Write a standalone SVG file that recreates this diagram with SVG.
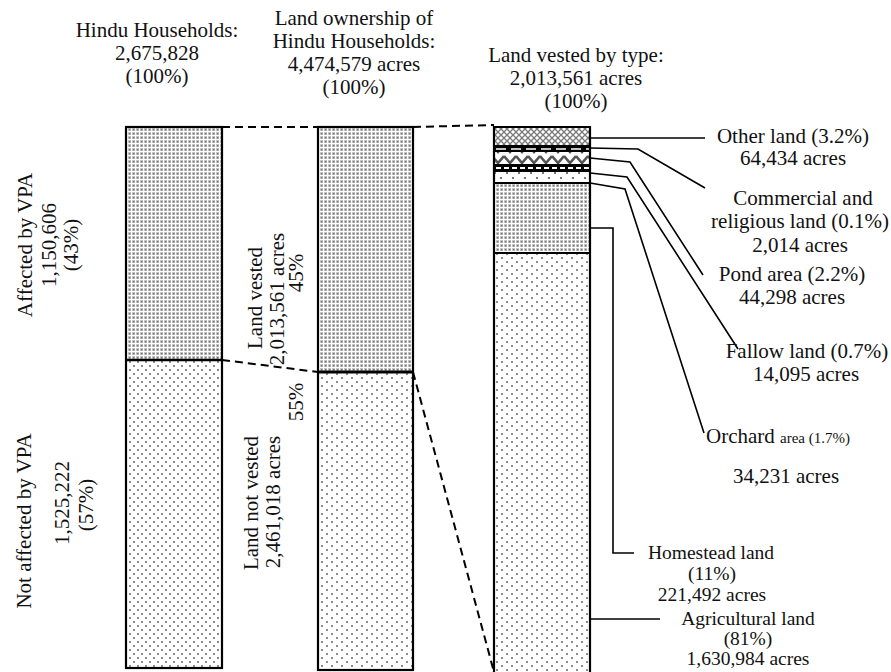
<svg xmlns="http://www.w3.org/2000/svg" width="891" height="672" viewBox="0 0 891 672">
  <style>
    text { font-family: "Liberation Serif", "Times New Roman", serif; font-size: 21px; fill: #111; }
    .c { text-anchor: middle; }
    .small { font-size: 15px; }
    .tight { font-size: 19.5px; }
    .bar { stroke: #000; stroke-width: 2.2; }
    .sep { stroke: #000; stroke-width: 2.5; fill: none; }
    .dash { stroke: #000; stroke-width: 2; stroke-dasharray: 8 5; fill: none; }
    .lead { stroke: #000; stroke-width: 1.6; fill: none; }
  </style>
  <defs>
    <pattern id="dense" width="4" height="4" patternUnits="userSpaceOnUse">
      <rect width="4" height="4" fill="#fff"/>
      <rect width="3" height="3" fill="#c4c4c4"/>
      <rect x="1" y="1" width="1.4" height="1.4" fill="#6f6f6f"/>
    </pattern>
    <pattern id="sparse" width="8" height="8" patternUnits="userSpaceOnUse">
      <rect width="8" height="8" fill="#fff"/>
      <circle cx="2" cy="2" r="1" fill="#666"/>
      <circle cx="6" cy="6" r="1" fill="#666"/>
    </pattern>
    <pattern id="sparse2" width="10" height="8" patternUnits="userSpaceOnUse">
      <rect width="10" height="8" fill="#fff"/>
      <circle cx="2" cy="2" r="1" fill="#666"/>
      <circle cx="7" cy="6" r="1" fill="#666"/>
    </pattern>
    <pattern id="lattice" width="6" height="6" patternUnits="userSpaceOnUse">
      <rect width="6" height="6" fill="#fff"/>
      <path d="M0,0 L6,6 M6,0 L0,6" stroke="#7a7a7a" stroke-width="1.3"/>
    </pattern>
    <pattern id="zigzag" width="12" height="11" patternUnits="userSpaceOnUse">
      <rect width="12" height="11" fill="#fff"/>
      <path d="M0,2 L6,9 L12,2" stroke="#555" stroke-width="2.6" fill="none"/>
    </pattern>
    <pattern id="orchard" width="12" height="10" patternUnits="userSpaceOnUse">
      <rect width="12" height="10" fill="#fff"/>
      <circle cx="3" cy="3" r="1.1" fill="#555"/>
      <circle cx="9" cy="8" r="1.1" fill="#555"/>
    </pattern>
  </defs>

  <!-- Column headings -->
  <g id="heading-households">
    <text class="c" x="157" y="37">Hindu Households:</text>
    <text class="c" x="157" y="60">2,675,828</text>
    <text class="c" x="157" y="83">(100%)</text>
  </g>
  <g id="heading-ownership">
    <text class="c" x="354" y="25">Land ownership of</text>
    <text class="c" x="354" y="48">Hindu Households:</text>
    <text class="c" x="354" y="71">4,474,579 acres</text>
    <text class="c" x="354" y="94">(100%)</text>
  </g>
  <g id="heading-vested">
    <text class="c" x="576" y="62">Land vested by type:</text>
    <text class="c" x="576" y="85">2,013,561 acres</text>
    <text class="c" x="576" y="108">(100%)</text>
  </g>

  <!-- Connectors between columns -->
  <g id="connectors">
    <path class="dash" d="M222,127 L318,127"/>
    <path class="dash" d="M413,127 L494,125"/>
    <path class="dash" d="M222,360 L318,372"/>
    <path class="dash" d="M413,372 L494,672"/>
    <!-- leader lines to the land-type labels -->
    <path class="lead" d="M590,138 L705,138"/>
    <path class="lead" d="M590,148 L638,149 L705,188"/>
    <path class="lead" d="M590,158 L630,162 L703,275"/>
    <path class="lead" d="M590,173 L627,177 L738,349"/>
    <path class="lead" d="M590,183 L625,189 L704,433"/>
    <path class="lead" d="M590,228 L613,228 L613,553 L634,553"/>
    <path class="lead" d="M590,619 L660,619"/>
  </g>

  <!-- Households bar -->
  <g id="bar-households">
    <rect x="126" y="127" width="96" height="233" fill="url(#dense)"/>
    <rect x="126" y="360" width="96" height="308" fill="url(#sparse)"/>
    <rect class="bar" x="126" y="127" width="96" height="541" fill="none"/>
    <line class="sep" x1="126" y1="360" x2="222" y2="360"/>
  </g>
  <g id="label-affected">
    <text class="c" transform="translate(32,245) rotate(-90)">Affected by VPA</text>
    <text class="c" transform="translate(56,245) rotate(-90)">1,150,606</text>
    <text class="c" transform="translate(78,245) rotate(-90)">(43%)</text>
  </g>
  <g id="label-not-affected">
    <text class="c" transform="translate(31,521) rotate(-90)">Not affected by VPA</text>
    <text class="c" transform="translate(69,503) rotate(-90)">1,525,222</text>
    <text class="c" transform="translate(93,505) rotate(-90)">(57%)</text>
  </g>

  <!-- Land ownership bar -->
  <g id="bar-ownership">
    <rect x="318" y="127" width="95" height="245" fill="url(#dense)"/>
    <rect x="318" y="372" width="95" height="298" fill="url(#sparse2)"/>
    <rect class="bar" x="318" y="127" width="95" height="543" fill="none"/>
    <line x1="318" y1="372" x2="413" y2="372" stroke="#000" stroke-width="3.2"/>
  </g>
  <g id="label-vested">
    <text class="c" transform="translate(262,298) rotate(-90)">Land vested</text>
    <text class="c" transform="translate(284,299) rotate(-90)">2,013,561 acres</text>
    <text class="c" transform="translate(303,273) rotate(-90)">45%</text>
  </g>
  <g id="label-not-vested">
    <text class="c" transform="translate(258,503) rotate(-90)">Land not vested</text>
    <text class="c" transform="translate(280,502) rotate(-90)">2,461,018 acres</text>
    <text class="c" transform="translate(303,402) rotate(-90)">55%</text>
  </g>

  <!-- Land vested by type bar -->
  <g id="bar-types">
    <rect x="494" y="127" width="96" height="18" fill="url(#lattice)"/>
    <rect x="494" y="145" width="96" height="7" fill="#000"/>
    <line x1="496" y1="149" x2="590" y2="149" stroke="#fff" stroke-width="1.6" stroke-dasharray="10 5"/>
    <rect x="494" y="152" width="96" height="12" fill="url(#zigzag)"/>
    <rect x="494" y="164" width="96" height="8" fill="#000"/>
    <line x1="496" y1="168" x2="590" y2="168" stroke="#fff" stroke-width="2" stroke-dasharray="5 3"/>
    <rect x="494" y="172" width="96" height="10" fill="url(#orchard)"/>
    <line x1="494" y1="183" x2="590" y2="183" stroke="#000" stroke-width="2"/>
    <rect x="494" y="184" width="96" height="69" fill="url(#dense)"/>
    <rect x="494" y="253" width="96" height="420" fill="url(#sparse2)"/>
    <line x1="494" y1="253" x2="590" y2="253" stroke="#000" stroke-width="2"/>
    <path class="bar" d="M494,674 L494,127 L590,127 L590,674" fill="none"/>
  </g>

  <!-- Land-type labels -->
  <g id="label-other">
    <text class="c" x="793" y="143">Other land (3.2%)</text>
    <text class="c" x="793" y="165">64,434 acres</text>
  </g>
  <g id="label-commercial">
    <text class="c" x="803" y="205">Commercial and</text>
    <text class="c" x="800" y="228">religious land (0.1%)</text>
    <text class="c" x="800" y="252">2,014 acres</text>
  </g>
  <g id="label-pond">
    <text class="c" x="792" y="281">Pond area (2.2%)</text>
    <text class="c" x="792" y="304">44,298 acres</text>
  </g>
  <g id="label-fallow">
    <text class="c" x="807" y="358">Fallow land (0.7%)</text>
    <text class="c" x="806" y="381">14,095 acres</text>
  </g>
  <g id="label-orchard">
    <text x="706" y="443">Orchard <tspan class="small">area (1.7%)</tspan></text>
    <text class="c" x="786" y="483">34,231 acres</text>
  </g>
  <g id="label-homestead">
    <text class="c tight" x="711" y="559">Homestead land</text>
    <text class="c tight" x="712" y="580">(11%)</text>
    <text class="c tight" x="712" y="601">221,492 acres</text>
  </g>
  <g id="label-agricultural">
    <text class="c tight" x="748" y="625">Agricultural land</text>
    <text class="c tight" x="748" y="645">(81%)</text>
    <text class="c tight" x="748" y="665">1,630,984 acres</text>
  </g>
</svg>
